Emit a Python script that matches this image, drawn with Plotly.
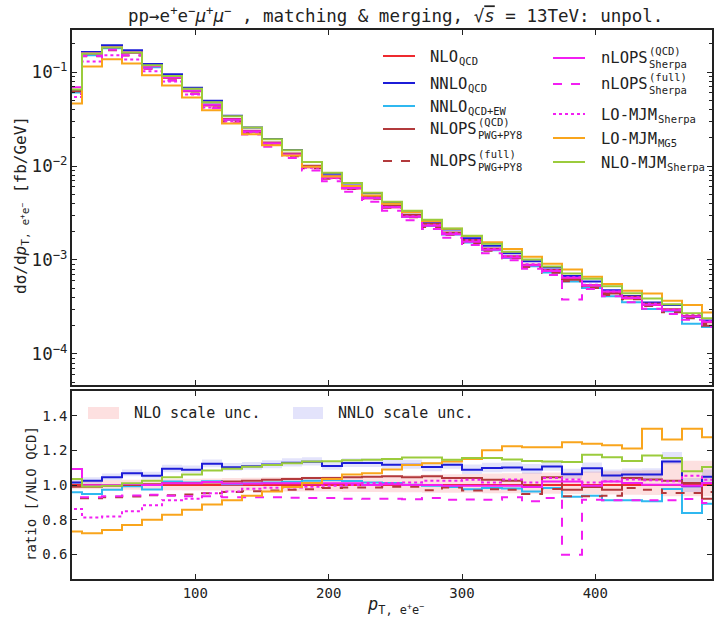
import plotly.graph_objects as go

# ---------------- data ----------------
bin_edges = [0, 15, 30, 45, 60, 75, 90, 105, 120, 135, 150, 165, 180, 195, 210, 225,
             240, 255, 270, 285, 300, 315, 330, 345, 360, 375, 390, 405, 420, 435, 450,
             465, 480, 495]

# NLO QCD differential cross section [fb/GeV] per bin
nlo_qcd = [0.063, 0.159, 0.184, 0.160, 0.1154, 0.0867, 0.0625, 0.0441, 0.0310, 0.0232,
           0.0173, 0.0131, 0.0097, 0.00746, 0.00578, 0.00454, 0.00363, 0.00288, 0.00231,
           0.00189, 0.00157, 0.00129, 0.00107, 0.00089, 0.00075, 0.000635, 0.000537,
           0.000452, 0.00039, 0.000333, 0.000292, 0.000251, 0.000217]

# ratios to NLO QCD
r_nnlo_qcd = [1.015, 1.025, 1.045, 1.068, 1.054, 1.093, 1.088, 1.122, 1.102, 1.108, 1.118,
              1.128, 1.134, 1.110, 1.127, 1.127, 1.117, 1.117, 1.104, 1.117, 1.088, 1.098,
              1.101, 1.090, 1.107, 1.062, 1.097, 1.055, 1.060, 1.060, 1.135, 0.993, 1.048]
r_nnlo_qcdew = [0.958, 0.948, 0.972, 0.993, 0.974, 1.020, 1.015, 1.022, 1.005, 1.010, 1.015,
                1.019, 1.024, 1.027, 1.023, 1.015, 1.012, 1.002, 0.996, 0.988, 0.975, 0.982,
                0.980, 0.962, 0.983, 0.932, 0.938, 0.912, 0.912, 0.906, 0.977, 0.838, 0.892]
r_nlops_qcd = [0.990, 0.990, 0.995, 1.000, 1.005, 1.010, 1.010, 1.015, 1.020, 1.025, 1.030,
               1.035, 1.040, 1.040, 1.045, 1.048, 1.050, 1.045, 1.050, 1.040, 1.040, 1.030,
               1.025, 0.996, 1.044, 0.973, 0.988, 0.973, 1.040, 1.031, 1.025, 1.012, 0.921]
r_nlops_full = [0.924, 0.924, 0.929, 0.934, 0.941, 0.941, 0.945, 0.953, 0.960, 0.964, 0.968,
                0.972, 0.976, 0.983, 0.986, 0.985, 0.990, 0.990, 0.970, 0.985, 0.968, 0.975,
                0.973, 0.948, 0.977, 0.935, 0.935, 0.938, 0.983, 0.973, 0.954, 0.954, 0.960]
r_nlops_sherpa_qcd = [1.092, 0.998, 1.000, 1.006, 1.000, 1.010, 1.010, 1.018, 1.008, 1.008,
                      1.010, 1.010, 1.008, 1.010, 1.010, 1.000, 1.005, 1.000, 1.000, 0.995,
                      0.995, 0.995, 0.996, 0.988, 1.020, 1.020, 0.996, 1.020, 1.012, 1.002,
                      1.002, 0.996, 1.012]
r_nlops_sherpa_full = [0.930, 0.930, 0.935, 0.940, 0.944, 0.938, 0.935, 0.935, 0.930, 0.930,
                       0.929, 0.927, 0.925, 0.925, 0.921, 0.920, 0.920, 0.918, 0.925, 0.915,
                       0.917, 0.915, 0.929, 0.906, 0.925, 0.598, 0.915, 0.912, 0.912, 0.912,
                       0.912, 0.919, 0.896]
r_lo_mjm_sherpa = [0.862, 0.812, 0.818, 0.849, 0.883, 0.912, 0.920, 0.953, 0.962, 0.979, 0.984,
                   0.986, 0.990, 0.995, 1.000, 1.012, 1.012, 1.015, 1.025, 1.025, 1.030, 1.015,
                   1.031, 1.015, 1.040, 1.031, 1.015, 1.021, 1.031, 1.027, 1.021, 1.054, 1.030]
r_lo_mjm_mg5 = [0.732, 0.722, 0.741, 0.770, 0.799, 0.828, 0.857, 0.888, 0.912, 0.938, 0.962,
                0.988, 1.012, 1.035, 1.060, 1.068, 1.090, 1.115, 1.125, 1.135, 1.150, 1.200,
                1.223, 1.217, 1.217, 1.246, 1.238, 1.229, 1.210, 1.325, 1.262, 1.325, 1.275]
r_nlo_mjm_sherpa = [1.034, 0.992, 0.995, 1.010, 1.025, 1.045, 1.060, 1.083, 1.094, 1.105,
                    1.115, 1.125, 1.135, 1.137, 1.142, 1.146, 1.150, 1.158, 1.158, 1.146,
                    1.156, 1.156, 1.147, 1.138, 1.136, 1.132, 1.175, 1.160, 1.138, 1.170,
                    1.156, 1.079, 1.104]

# scale-uncertainty bands (ratio to NLO QCD)
nlo_band_up = [1.025, 1.026, 1.028, 1.030, 1.031, 1.034, 1.036, 1.038, 1.040, 1.042, 1.044,
               1.046, 1.047, 1.050, 1.052, 1.054, 1.055, 1.058, 1.060, 1.062, 1.063, 1.066,
               1.068, 1.070, 1.072, 1.075, 1.078, 1.080, 1.083, 1.085, 1.140, 1.140, 1.140]
nlo_band_lo = [0.975, 0.976, 0.974, 0.972, 0.972, 0.970, 0.968, 0.968, 0.966, 0.965, 0.964,
               0.963, 0.962, 0.962, 0.960, 0.960, 0.958, 0.958, 0.956, 0.955, 0.955, 0.953,
               0.952, 0.950, 0.950, 0.948, 0.946, 0.945, 0.944, 0.942, 0.935, 0.935, 0.935]
nnlo_band_up = [1.035, 1.045, 1.066, 1.090, 1.077, 1.117, 1.112, 1.147, 1.127, 1.133, 1.143,
                1.154, 1.160, 1.137, 1.154, 1.154, 1.145, 1.145, 1.132, 1.146, 1.118, 1.128,
                1.131, 1.121, 1.138, 1.094, 1.130, 1.089, 1.095, 1.096, 1.190, 1.040, 1.090]
nnlo_band_lo = [0.997, 1.007, 1.027, 1.050, 1.036, 1.074, 1.069, 1.102, 1.082, 1.088, 1.097,
                1.107, 1.112, 1.088, 1.104, 1.104, 1.094, 1.094, 1.080, 1.093, 1.064, 1.073,
                1.076, 1.065, 1.082, 1.036, 1.070, 1.028, 1.032, 1.032, 1.120, 0.960, 1.010]

x_ticks = [100, 200, 300, 400]
ratio_ticks = [0.6, 0.8, 1.0, 1.2, 1.4]

# ---------------- styling ----------------
MONO = "DejaVu Sans Mono"
FIG_W, FIG_H = 715, 622
ML, MR, MT, MB = 72, 3, 30, 43
PW = FIG_W - ML - MR
PH = FIG_H - MT - MB


def px(x):
    return (x - ML) / PW


def py(y):
    return (FIG_H - MB - y) / PH


def step(vals):
    return list(vals) + [vals[-1]]


r_nlo_qcd = [v / v for v in nlo_qcd]

series = [
    ("NLO QCD", r_nlo_qcd, "#ee2a2f", "solid"),
    ("NNLO QCD", r_nnlo_qcd, "#1c1cd8", "solid"),
    ("NNLO QCD+EW", r_nnlo_qcdew, "#2fb8f0", "solid"),
    ("NLOPS QCD PWG+PY8", r_nlops_qcd, "#b23a3c", "solid"),
    ("NLOPS full PWG+PY8", r_nlops_full, "#b23a3c", "dash"),
    ("nLOPS QCD Sherpa", r_nlops_sherpa_qcd, "#f21ff2", "solid"),
    ("nLOPS full Sherpa", r_nlops_sherpa_full, "#f21ff2", "dash"),
    ("LO-MJM Sherpa", r_lo_mjm_sherpa, "#f21ff2", "dot"),
    ("LO-MJM MG5", r_lo_mjm_mg5, "#f9a51c", "solid"),
    ("NLO-MJM Sherpa", r_nlo_mjm_sherpa, "#9bcb3c", "solid"),
]

fig = go.Figure()

# bands in ratio panel
for up, lo, col in [(nlo_band_up, nlo_band_lo, "rgba(240,60,60,0.16)"),
                    (nnlo_band_up, nnlo_band_lo, "rgba(60,60,230,0.14)")]:
    fig.add_trace(go.Scatter(x=bin_edges, y=step(lo), mode="lines", line=dict(width=0, shape="hv"),
                             xaxis="x2", yaxis="y2", showlegend=False, hoverinfo="skip"))
    fig.add_trace(go.Scatter(x=bin_edges, y=step(up), mode="lines", line=dict(width=0, shape="hv"),
                             fill="tonexty", fillcolor=col, xaxis="x2", yaxis="y2",
                             showlegend=False, hoverinfo="skip"))

for name, ratio, col, dash in series:
    absval = [n * r for n, r in zip(nlo_qcd, ratio)]
    fig.add_trace(go.Scatter(x=bin_edges, y=step(absval), mode="lines", name=name,
                             line=dict(color=col, width=2, dash=dash, shape="hv"),
                             xaxis="x", yaxis="y", showlegend=False))
    fig.add_trace(go.Scatter(x=bin_edges, y=step(ratio), mode="lines", name=name,
                             line=dict(color=col, width=2, dash=dash, shape="hv"),
                             xaxis="x2", yaxis="y2", showlegend=False))

axis_common = dict(showline=True, linecolor="#222", linewidth=1.5, mirror="allticks",
                   ticks="inside", tickcolor="#222", ticklen=5, tickwidth=1.2,
                   showgrid=False, zeroline=False, automargin=False,
                   tickfont=dict(family=MONO, size=14, color="#222"))

split_top = py(385)
split_bot = py(391)

fig.update_layout(
    width=FIG_W, height=FIG_H,
    margin=dict(l=ML, r=MR, t=MT, b=MB),
    plot_bgcolor="white", paper_bgcolor="white",
    font=dict(family=MONO, color="#222"),
    xaxis=dict(axis_common, domain=[0, 1], range=[7.5, 487.5], anchor="y",
               tickvals=x_ticks, showticklabels=False, matches="x2"),
    yaxis=dict(axis_common, domain=[split_top, 1], type="log", range=[-4.33, -0.553],
               dtick=1, exponentformat="power", showexponent="all",
               minor=dict(ticks="inside", ticklen=3, tickcolor="#222", dtick="D1", showgrid=False)),
    xaxis2=dict(axis_common, domain=[0, 1], range=[7.5, 487.5], anchor="y2",
                tickvals=x_ticks, ticktext=[str(t) for t in x_ticks]),
    yaxis2=dict(axis_common, domain=[0, split_bot], range=[0.458, 1.542], anchor="x2",
                tickvals=ratio_ticks, ticktext=["%.1f" % t for t in ratio_ticks]),
)

ann = []
shapes = []

# title
ann.append(dict(xref="paper", yref="paper", x=px(395), y=py(15), xanchor="center", yanchor="middle",
                showarrow=False, font=dict(family=MONO, size=17.5, color="#222"),
                text="pp→e<sup>+</sup>e<sup>−</sup><i>μ</i><sup>+</sup><i>μ</i><sup>−</sup> , "
                     "matching & merging, √<span style=\"text-decoration:overline\"><i>s</i></span>"
                     " = 13TeV: unpol."))

# axis titles
ann.append(dict(xref="paper", yref="paper", x=px(22), y=py(205), xanchor="center", yanchor="middle",
                textangle=-90, showarrow=False, font=dict(family=MONO, size=16, color="#222"),
                text="dσ/d<i>p</i><sub>T, e<sup>+</sup>e<sup>−</sup></sub> [fb/GeV]"))
ann.append(dict(xref="paper", yref="paper", x=px(31), y=py(494), xanchor="center", yanchor="middle",
                textangle=-90, showarrow=False, font=dict(family=MONO, size=14, color="#222"),
                text="ratio [/NLO QCD]"))
ann.append(dict(xref="paper", yref="paper", x=px(395), y=py(605), xanchor="center", yanchor="middle",
                showarrow=False, font=dict(family=MONO, size=17, color="#222"),
                text="<i>p</i><sub>T, e<sup>+</sup>e<sup>−</sup></sub>"))

# legend of top panel (two columns)
MAIN, SMALL = 15.5, 10.5
CW = 0.602 * MAIN
legend_entries = [
    # (sample x0, x1, text x, line y, main, sup, sub, colour, dash)
    (383, 415, 428, 56, "NLO", None, "QCD", "#ee2a2f", "solid"),
    (383, 415, 428, 83, "NNLO", None, "QCD", "#1c1cd8", "solid"),
    (383, 415, 428, 106, "NNLO", None, "QCD+EW", "#2fb8f0", "solid"),
    (383, 415, 428, 129, "NLOPS", "(QCD)", "PWG+PY8", "#b23a3c", "solid"),
    (383, 415, 428, 161, "NLOPS", "(full)", "PWG+PY8", "#b23a3c", "dash"),
    (553, 585, 599, 58, "nLOPS", "(QCD)", "Sherpa", "#f21ff2", "solid"),
    (553, 585, 599, 84, "nLOPS", "(full)", "Sherpa", "#f21ff2", "dash"),
    (553, 585, 599, 114, "LO-MJM", None, "Sherpa", "#f21ff2", "dot"),
    (553, 585, 599, 138, "LO-MJM", None, "MG5", "#f9a51c", "solid"),
    (553, 585, 599, 162, "NLO-MJM", None, "Sherpa", "#9bcb3c", "solid"),
]
for x0, x1, xt, yl, main, sup, sub, col, dash in legend_entries:
    shapes.append(dict(type="line", xref="paper", yref="paper", x0=px(x0), x1=px(x1),
                       y0=py(yl), y1=py(yl), line=dict(color=col, width=2, dash=dash)))
    ym = yl + (0 if sup else 1)
    ann.append(dict(xref="paper", yref="paper", x=px(xt), y=py(ym), xanchor="left", yanchor="middle",
                    showarrow=False, text=main, font=dict(family=MONO, size=MAIN, color="#222")))
    xs = xt + CW * len(main) + 1
    if sup:
        ann.append(dict(xref="paper", yref="paper", x=px(xs), y=py(ym - 7), xanchor="left",
                        yanchor="middle", showarrow=False, text=sup,
                        font=dict(family=MONO, size=SMALL, color="#222")))
        ann.append(dict(xref="paper", yref="paper", x=px(xs), y=py(ym + 5.5), xanchor="left",
                        yanchor="middle", showarrow=False, text=sub,
                        font=dict(family=MONO, size=SMALL, color="#222")))
    else:
        ann.append(dict(xref="paper", yref="paper", x=px(xs), y=py(ym + 4), xanchor="left",
                        yanchor="middle", showarrow=False, text=sub,
                        font=dict(family=MONO, size=SMALL, color="#222")))

# legend of ratio panel
for x0, x1, xt, col, label in [(88, 119, 132, "rgba(240,60,60,0.16)", "NLO scale unc."),
                               (293, 323, 336, "rgba(60,60,230,0.14)", "NNLO scale unc.")]:
    shapes.append(dict(type="rect", xref="paper", yref="paper", x0=px(x0), x1=px(x1),
                       y0=py(419), y1=py(407), fillcolor=col, line=dict(width=0)))
    ann.append(dict(xref="paper", yref="paper", x=px(xt), y=py(413), xanchor="left", yanchor="middle",
                    showarrow=False, text=label, font=dict(family=MONO, size=15, color="#222")))

fig.update_layout(annotations=ann, shapes=shapes)
fig.write_html("out.html", config={"displayModeBar": False},
               post_script="document.body.style.margin='0px';")
